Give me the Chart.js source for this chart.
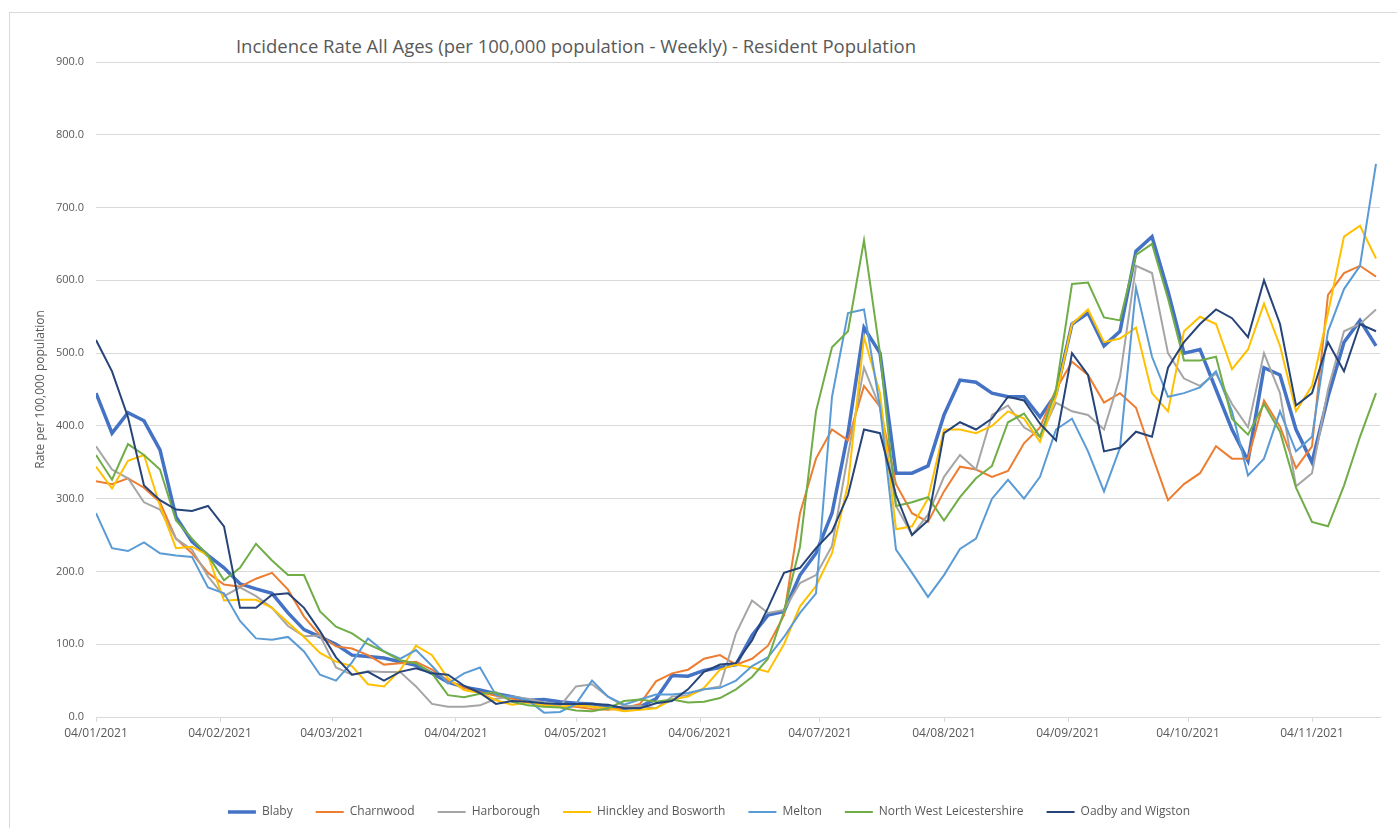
<!DOCTYPE html>
<html lang="en">
<head>
    <meta charset="UTF-8">
    <title>Incidence Rate All Ages - Resident Population</title>
    <style>
        body {
            margin: 0;
            background: #fff;
            font-family: 'Open Sans', sans-serif;
        }

        .frame {
            position: absolute;
            left: 9px;
            top: 12px;
            right: 0;
            bottom: 0;
            border-left: 1px solid #d9d9d9;
            border-top: 1px solid #d9d9d9;
        }

        .chart-title {
            position: absolute;
            left: 576px;
            top: 33px;
            transform: translateX(-50%);
            font-size: 18.5px;
            color: #595959;
            white-space: nowrap;
        }

        .chart-box {
            position: absolute;
            left: 0;
            top: 0;
        }
    </style>
</head>
<body>
    <div class="frame"></div>
    <div class="chart-title">Incidence Rate All Ages (per 100,000 population - Weekly) - Resident Population</div>
    <div class="chart-box">
        <canvas id="rateChart" width="1397" height="828"></canvas>
    </div>
    <script src="https://cdn.jsdelivr.net/npm/chart.js"></script>
    <script>
        // days since 04/01/2021, one reading every 4 days
        const days = [0, 4, 8, 12, 16, 20, 24, 28, 32, 36,
            40, 44, 48, 52, 56, 60, 64, 68, 72, 76,
            80, 84, 88, 92, 96, 100, 104, 108, 112, 116,
            120, 124, 128, 132, 136, 140, 144, 148, 152, 156,
            160, 164, 168, 172, 176, 180, 184, 188, 192, 196,
            200, 204, 208, 212, 216, 220, 224, 228, 232, 236,
            240, 244, 248, 252, 256, 260, 264, 268, 272, 276,
            280, 284, 288, 292, 296, 300, 304, 308, 312, 316,
            320];

        const tickDays = [0, 31, 59, 90, 120, 151, 181, 212, 243, 273, 304];
        const tickLabels = ['04/01/2021', '04/02/2021', '04/03/2021', '04/04/2021', '04/05/2021', '04/06/2021',
            '04/07/2021', '04/08/2021', '04/09/2021', '04/10/2021', '04/11/2021'];

        const districts = ['Blaby', 'Charnwood', 'Harborough', 'Hinckley and Bosworth', 'Melton',
            'North West Leicestershire', 'Oadby and Wigston'];

        const blaby = [445, 390, 418, 407, 367, 275, 241, 222, 205, 183,
            176, 170, 143, 120, 110, 100, 85, 83, 81, 76,
            71, 60, 48, 41, 37, 32, 28, 23, 24, 21,
            19, 18, 14, 12, 14, 25, 57, 56, 64, 68,
            72, 112, 140, 145, 195, 225, 280, 390, 535, 500,
            335, 335, 345, 415, 463, 460, 445, 440, 440, 412,
            444, 540, 555, 510, 530, 640, 660, 585, 500, 505,
            450, 395, 352, 480, 470, 395, 350, 440, 515, 545,
            510];
        const charnwood = [324, 320, 328, 315, 295, 245, 225, 198, 182, 179,
            190, 198, 175, 138, 112, 97, 94, 85, 72, 74,
            76, 65, 50, 40, 34, 29, 25, 20, 17, 14,
            14, 11, 10, 12, 18, 49, 60, 65, 80, 85,
            72, 80, 98, 140, 280, 355, 395, 380, 455, 426,
            320, 280, 268, 310, 344, 340, 330, 338, 376, 398,
            450, 488, 470, 432, 445, 425, 360, 298, 320, 335,
            372, 355, 355, 435, 399, 342, 372, 580, 610, 620,
            605];
        const harborough = [372, 340, 328, 295, 285, 245, 230, 193, 166, 178,
            166, 150, 125, 111, 112, 68, 58, 63, 62, 62,
            42, 18, 14, 14, 16, 25, 28, 25, 20, 15,
            42, 45, 28, 15, 15, 12, 28, 30, 38, 42,
            115, 160, 143, 147, 184, 195, 235, 360, 480, 425,
            290, 250, 278, 330, 360, 340, 415, 428, 398, 385,
            432, 420, 415, 395, 467, 620, 610, 500, 465, 455,
            472, 430, 398, 500, 445, 317, 335, 450, 530, 540,
            560];
        const hinckley = [344, 314, 352, 360, 290, 232, 234, 222, 160, 161,
            161, 150, 130, 110, 88, 76, 70, 45, 42, 64,
            98, 85, 53, 37, 33, 23, 17, 20, 16, 14,
            16, 14, 12, 8, 10, 12, 24, 28, 40, 65,
            72, 68, 62, 100, 152, 180, 225, 320, 522, 445,
            258, 262, 300, 395, 395, 390, 400, 420, 410, 378,
            440, 540, 560, 515, 520, 535, 445, 420, 530, 550,
            540, 478, 505, 568, 510, 420, 455, 555, 660, 675,
            630];
        const melton = [280, 232, 228, 240, 225, 222, 220, 178, 170, 132,
            108, 106, 110, 90, 58, 50, 75, 108, 90, 80,
            92, 70, 46, 60, 68, 30, 28, 23, 6, 7,
            18, 50, 28, 17, 24, 31, 31, 33, 38, 40,
            50, 70, 82, 110, 143, 170, 440, 555, 560, 426,
            230, 198, 165, 195, 231, 245, 300, 326, 300, 330,
            395, 410, 365, 310, 370, 590, 495, 440, 445, 453,
            475, 420, 332, 355, 420, 365, 385, 530, 588, 620,
            760];
        const nwLeics = [360, 326, 375, 360, 340, 270, 245, 222, 188, 205,
            238, 215, 195, 195, 145, 124, 115, 100, 90, 78,
            74, 60, 30, 27, 32, 34, 21, 16, 14, 13,
            9, 8, 12, 22, 24, 21, 24, 20, 21, 26,
            38, 55, 80, 145, 234, 420, 508, 530, 655, 500,
            290, 295, 302, 270, 302, 328, 345, 405, 417, 385,
            450, 595, 597, 549, 545, 635, 650, 575, 490, 490,
            495, 410, 388, 430, 392, 315, 268, 262, 318, 385,
            445];
        const oadby = [518, 475, 412, 318, 298, 285, 283, 290, 262, 150,
            150, 168, 170, 150, 118, 82, 58, 62, 50, 62,
            67, 60, 58, 43, 33, 18, 22, 21, 19, 18,
            18, 18, 17, 12, 12, 19, 22, 38, 62, 72,
            74, 105, 150, 198, 205, 232, 255, 305, 395, 390,
            305, 250, 270, 390, 405, 395, 410, 440, 435, 403,
            380, 500, 470, 365, 370, 392, 385, 480, 515, 540,
            560, 548, 522, 600, 540, 428, 445, 515, 475, 540,
            530];

        const seriesValues = [blaby, charnwood, harborough, hinckley, melton, nwLeics, oadby];
        const colours = ['#4472c4', '#ed7d31', '#a5a5a5', '#ffc000', '#5b9bd5', '#70ad47', '#264478'];

        const textColour = '#595959';
        const gridColour = '#d9d9d9';
        const fontFamily = "'Open Sans', sans-serif";

        const datasets = districts.map((name, i) => ({
            label: name,
            data: seriesValues[i].map((v, j) => ({ x: days[j], y: v })),
            borderColor: colours[i],
            backgroundColor: colours[i],
            borderWidth: i === 0 ? 3.5 : 2,
            pointRadius: 0,
            tension: 0,
            order: districts.length - i // later series on top, like Excel
        }));

        const ctx = document.getElementById('rateChart').getContext('2d');
        new Chart(ctx, {
            type: 'line',
            data: { datasets: datasets },
            options: {
                responsive: false,
                animation: false,
                layout: { padding: { top: 62, right: 17, left: 38, bottom: 0 } },
                plugins: {
                    title: { display: false },
                    tooltip: { enabled: false },
                    legend: {
                        position: 'bottom',
                        labels: {
                            usePointStyle: true,
                            pointStyle: 'line',
                            pointStyleWidth: 28,
                            padding: 23,
                            color: textColour,
                            font: { family: fontFamily, size: 12 },
                            sort: (a, b) => a.datasetIndex - b.datasetIndex
                        }
                    }
                },
                scales: {
                    x: {
                        type: 'linear',
                        min: 0,
                        max: 321,
                        afterFit: (scale) => { scale.height = 66; },
                        afterBuildTicks: (scale) => {
                            scale.ticks = tickDays.map(d => ({ value: d }));
                        },
                        grid: {
                            drawOnChartArea: false,
                            drawTicks: true,
                            tickLength: 5,
                            color: gridColour
                        },
                        border: { display: true, color: gridColour },
                        ticks: {
                            autoSkip: false,
                            maxRotation: 0,
                            padding: 4,
                            color: textColour,
                            font: { family: fontFamily, size: 12 },
                            callback: (value) => {
                                const k = tickDays.indexOf(value);
                                return k >= 0 ? tickLabels[k] : '';
                            }
                        }
                    },
                    y: {
                        min: 0,
                        max: 900,
                        afterFit: (scale) => { scale.width = 58; },
                        grid: { color: gridColour, drawTicks: false },
                        border: { display: false },
                        ticks: {
                            stepSize: 100,
                            padding: 12,
                            color: textColour,
                            font: { family: fontFamily, size: 11 },
                            callback: (value) => value.toFixed(1)
                        },
                        title: {
                            display: true,
                            text: 'Rate per 100,000 population',
                            color: textColour,
                            font: { family: fontFamily, size: 12 },
                            padding: { top: -5, bottom: 0 }
                        }
                    }
                }
            }
        });
    </script>
</body>
</html>
